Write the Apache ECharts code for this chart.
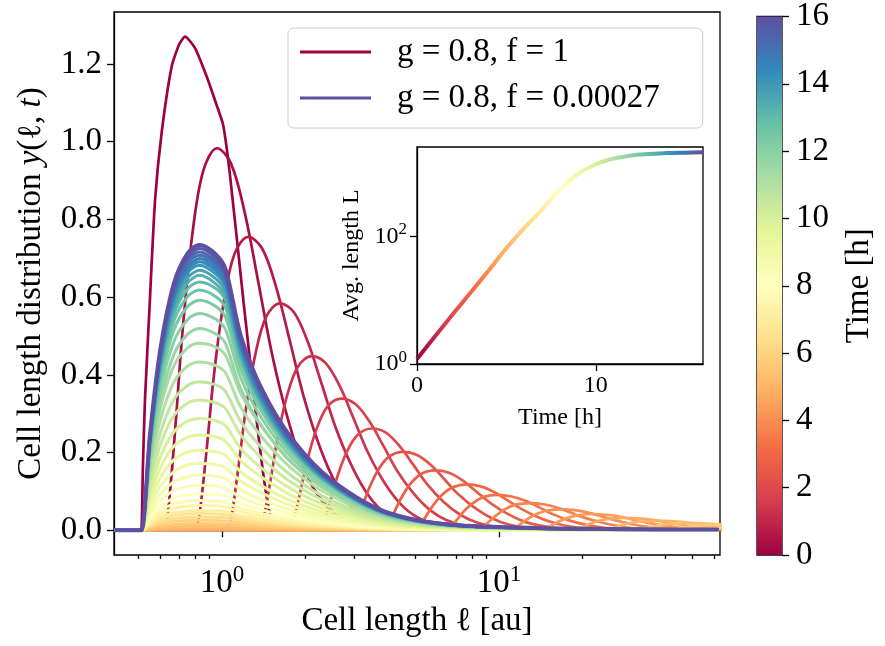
<!DOCTYPE html>
<html><head><meta charset="utf-8">
<script src="https://cdn.jsdelivr.net/npm/echarts@6/dist/echarts.min.js"></script>
<style>html,body{margin:0;padding:0;background:#fff}#c{width:885px;height:646px}</style>
</head><body><div id="c"></div>
<script>
const FONT = '"Liberation Serif", "DejaVu Serif", serif';
const T_MAX = 16;
const SPECTRAL = ['#9e0142','#d53e4f','#f46d43','#fdae61','#fee08b','#ffffbf','#e6f598','#abdda4','#66c2a5','#3288bd','#5e4fa2'];

// ---- ticks ----
const X_MAJOR = [1, 10];
const X_MINOR = [0.5,0.6,0.7,0.8,0.9,2,3,4,5,6,7,8,9,20,30,40,50,60];
const Y_TICKS = [0,0.2,0.4,0.6,0.8,1.0,1.2];
const INSET_X_TICKS = [0, 10];
const INSET_Y_TICKS = [1, 100];
const CB_TICKS = [0,2,4,6,8,10,12,14,16];

// ---- series 1: g = 0.8, f = 1 (each curve: its own x and y arrays) ----
const F1_TIMES = [0,0.333,0.667,1,1.333,1.667,2,2.333,2.667,3,3.333,3.667,4,4.333,4.667,5,5.333,5.667,6];
const F1_X = [
 [0.41,0.50,0.511,0.518,0.527,0.549,0.573,0.605,0.658,0.70,0.735,0.80,0.881,0.95,1.01,1.07,1.194,1.262,1.33,1.40,1.47,1.55,1.65],
 [0.620,0.641,0.680,0.720,0.780,0.855,0.96,1.077,1.209,1.356,1.522,1.747,2.005,2.303,2.769,3.486],
 [0.804,0.831,0.881,0.933,1.011,1.108,1.244,1.396,1.566,1.758,1.972,2.264,2.599,2.984,3.588,4.517],
 [1.047,1.082,1.147,1.215,1.317,1.443,1.62,1.818,2.040,2.289,2.568,2.948,3.384,3.886,4.672,5.882],
 [1.363,1.409,1.494,1.583,1.715,1.880,2.11,2.367,2.656,2.981,3.344,3.840,4.408,5.062,6.085,7.661],
 [1.744,1.804,1.912,2.025,2.195,2.406,2.70,3.029,3.399,3.815,4.280,4.914,5.640,6.477,7.787,9.804],
 [2.242,2.318,2.457,2.603,2.821,3.092,3.47,3.893,4.369,4.903,5.500,6.315,7.249,8.325,10.01,12.60],
 [2.913,3.013,3.193,3.383,3.667,4.018,4.51,5.060,5.678,6.373,7.148,8.208,9.421,10.82,13.01,16.38],
 [3.798,3.928,4.163,4.410,4.780,5.239,5.88,6.597,7.403,8.308,9.320,10.70,12.28,14.11,16.96,21.35],
 [4.942,5.110,5.416,5.738,6.219,6.816,7.65,8.583,9.631,10.81,12.13,13.92,15.98,18.35,22.06,27.78],
 [6.395,6.613,7.009,7.425,8.049,8.821,9.9,11.11,12.46,13.99,15.69,18.02,20.68,23.75,28.55,35.95],
 [8.333,8.617,9.133,9.675,10.49,11.49,12.9,14.47,16.24,18.23,20.45,23.48,26.95,30.95,37.20,46.84],
 [10.85,11.22,11.89,12.60,13.66,14.97,16.8,18.85,21.15,23.74,26.63,30.58,35.10,40.30,48.45,61.00],
 [14.08,14.56,15.43,16.35,17.72,19.42,21.8,24.46,27.45,30.80,34.55,39.68,45.54,52.30,62.87,79.16],
 [18.35,18.97,20.11,21.30,23.09,25.30,28.4,31.86,35.76,40.13,45.01,51.69,59.33,68.13,81.91,103.1],
 [23.84,24.65,26.13,27.68,30.00,32.88,36.9,41.40,46.46,52.14,58.49,67.16,77.08,88.52,106.4,134.0],
 [31.01,32.06,33.98,36.00,39.02,42.77,48,53.86,60.43,67.82,76.08,87.36],
 [40.31,41.68,44.18,46.80,50.73,55.60,62.4,70.01,78.56],
 [52.33,54.11,57.35,60.75,65.85,72.17,81]
];
const F1_Y = [
 [0,0,0,0.163,0.335,0.592,0.849,1.021,1.193,1.25,1.27,1.24,1.167,1.10,1.042,0.91,0.592,0.437,0.29,0.16,0.06,0.01,0],
 [0,0.059,0.275,0.511,0.757,0.924,0.983,0.944,0.816,0.634,0.447,0.275,0.149,0.075,0.028,0.008],
 [0,0.045,0.211,0.393,0.581,0.710,0.755,0.725,0.627,0.487,0.344,0.211,0.115,0.057,0.021,0.006],
 [0,0.035,0.164,0.304,0.450,0.549,0.584,0.561,0.485,0.377,0.266,0.164,0.089,0.044,0.016,0.005],
 [0,0.027,0.125,0.233,0.345,0.421,0.448,0.430,0.372,0.289,0.204,0.125,0.068,0.034,0.013,0.004],
 [0,0.020,0.095,0.176,0.261,0.319,0.339,0.325,0.281,0.219,0.154,0.095,0.052,0.026,0.009,0.003],
 [0,0.016,0.073,0.136,0.202,0.246,0.262,0.252,0.217,0.169,0.119,0.073,0.040,0.020,0.007,0.002],
 [0,0.012,0.057,0.105,0.156,0.190,0.202,0.194,0.168,0.130,0.092,0.057,0.031,0.015,0.006,0.002],
 [0,0.009,0.043,0.080,0.119,0.145,0.154,0.148,0.128,0.099,0.070,0.043,0.023,0.012,0.004,0.001],
 [0,0.007,0.033,0.061,0.091,0.111,0.118,0.113,0.098,0.076,0.054,0.033,0.018,0.009,0.003,0.001],
 [0,0.005,0.025,0.047,0.070,0.086,0.091,0.087,0.076,0.059,0.041,0.025,0.014,0.007,0.003,0.001],
 [0,0.004,0.020,0.036,0.054,0.066,0.070,0.067,0.058,0.045,0.032,0.020,0.011,0.005,0.002,0.001],
 [0,0.003,0.015,0.028,0.042,0.051,0.054,0.052,0.045,0.035,0.025,0.015,0.008,0.004,0.0015,0.0004],
 [0,0.0025,0.012,0.022,0.032,0.039,0.042,0.040,0.035,0.027,0.019,0.012,0.006,0.003,0.0012,0.0003],
 [0,0.002,0.009,0.017,0.025,0.030,0.032,0.031,0.027,0.021,0.015,0.009,0.005,0.0024,0.0009,0.0003],
 [0,0.0015,0.007,0.013,0.019,0.0235,0.025,0.024,0.021,0.016,0.011,0.007,0.004,0.0019,0.0007,0.0002],
 [0,0.0011,0.0053,0.0099,0.0146,0.0179,0.019,0.0182,0.0158,0.0123,0.0086,0.0053],
 [0,0.0009,0.0042,0.0078,0.0116,0.0141,0.015,0.0144,0.0125],
 [0,0.0007,0.0032,0.006,0.0089,0.0108,0.0115]
];

// ---- series 2: g = 0.8, f = 0.00027 (shared length grid) ----
const F2_X = [0.41,0.505,0.512,0.55,0.6,0.67,0.75,0.83,0.95,1.03,1.17,1.4,1.8,2.5,4,8,62];
const F2_TIMES = [3.667,4,4.333,4.667,5,5.333,5.667,6,6.333,6.667,7,7.333,7.667,8,8.333,8.667,9,9.333,9.667,10,10.333,10.667,11,11.333,11.667,12,12.333,12.667,13,13.333,13.667,14,14.333,14.667,15,15.333,15.667,16];
const F2_Y = [
 [0,0,0,0.0004,0.0007,0.0009,0.001,0.001,0.001,0.0009,0.0007,0.0006,0.0004,0.0002,0.0001,0,0],
 [0,0,0,0.0006,0.0011,0.0014,0.0015,0.0015,0.0015,0.0014,0.0011,0.0008,0.0005,0.0003,0.0001,0,0],
 [0,0,0,0.0007,0.0013,0.0018,0.002,0.002,0.002,0.0019,0.0015,0.0011,0.0007,0.0004,0.0001,0,0],
 [0,0,0,0.0011,0.002,0.0026,0.0029,0.003,0.0029,0.0028,0.0022,0.0017,0.0011,0.0006,0.0002,0,0],
 [0,0,0,0.0014,0.0026,0.0035,0.0039,0.004,0.0039,0.0037,0.0029,0.0022,0.0014,0.0008,0.0003,0.0001,0],
 [0,0,0,0.0036,0.0066,0.0088,0.0098,0.01,0.0098,0.0094,0.0073,0.0055,0.0036,0.002,0.0007,0.0002,0],
 [0,0,0,0.006,0.011,0.015,0.017,0.017,0.017,0.016,0.012,0.009,0.006,0.003,0.001,0,0],
 [0,0,0,0.009,0.017,0.023,0.025,0.026,0.025,0.024,0.019,0.014,0.009,0.005,0.002,0,0],
 [0,0,0,0.012,0.022,0.030,0.033,0.034,0.033,0.032,0.025,0.019,0.012,0.007,0.002,0.001,0],
 [0,0,0,0.015,0.028,0.038,0.042,0.043,0.042,0.040,0.031,0.024,0.015,0.009,0.003,0.001,0],
 [0,0,0,0.018,0.034,0.045,0.050,0.051,0.050,0.048,0.037,0.028,0.018,0.010,0.004,0.001,0],
 [0,0,0,0.023,0.042,0.056,0.062,0.064,0.063,0.060,0.047,0.035,0.023,0.013,0.004,0.001,0],
 [0,0,0,0.028,0.051,0.068,0.075,0.077,0.075,0.072,0.056,0.042,0.028,0.015,0.005,0.001,0],
 [0,0,0,0.034,0.062,0.083,0.092,0.094,0.092,0.088,0.069,0.052,0.034,0.019,0.007,0.002,0],
 [0,0,0,0.042,0.077,0.102,0.113,0.116,0.114,0.108,0.085,0.064,0.042,0.023,0.008,0.002,0],
 [0,0,0,0.051,0.094,0.125,0.138,0.142,0.139,0.133,0.104,0.078,0.051,0.028,0.010,0.003,0],
 [0,0,0,0.062,0.114,0.151,0.168,0.172,0.169,0.161,0.126,0.095,0.062,0.034,0.012,0.003,0.001],
 [0,0,0,0.074,0.136,0.181,0.201,0.206,0.202,0.193,0.150,0.113,0.074,0.041,0.014,0.004,0.001],
 [0,0,0,0.088,0.162,0.216,0.239,0.245,0.240,0.229,0.179,0.135,0.088,0.049,0.017,0.004,0.001],
 [0,0,0,0.104,0.190,0.253,0.281,0.288,0.282,0.269,0.210,0.158,0.104,0.058,0.020,0.005,0.001],
 [0,0,0,0.121,0.221,0.295,0.327,0.335,0.328,0.313,0.245,0.184,0.121,0.067,0.023,0.006,0.001],
 [0,0,0,0.138,0.252,0.336,0.372,0.382,0.374,0.357,0.279,0.210,0.138,0.076,0.027,0.007,0.001],
 [0,0,0,0.156,0.286,0.381,0.422,0.433,0.424,0.405,0.316,0.238,0.156,0.087,0.030,0.008,0.002],
 [0,0,0,0.173,0.317,0.423,0.469,0.481,0.471,0.450,0.351,0.265,0.173,0.096,0.034,0.009,0.002],
 [0,0,0,0.182,0.337,0.452,0.504,0.519,0.505,0.480,0.363,0.265,0.171,0.096,0.034,0.008,0.002],
 [0,0,0,0.195,0.363,0.485,0.542,0.558,0.543,0.516,0.391,0.285,0.184,0.103,0.036,0.009,0.002],
 [0,0,0,0.207,0.385,0.515,0.575,0.592,0.576,0.548,0.414,0.302,0.195,0.110,0.038,0.009,0.002],
 [0,0,0,0.214,0.400,0.538,0.601,0.618,0.601,0.572,0.433,0.315,0.204,0.114,0.040,0.010,0.002],
 [0,0,0,0.220,0.410,0.556,0.621,0.639,0.622,0.591,0.447,0.326,0.211,0.118,0.042,0.010,0.002],
 [0,0,0,0.224,0.420,0.567,0.636,0.656,0.634,0.601,0.447,0.321,0.208,0.114,0.040,0.010,0.002],
 [0,0,0,0.228,0.428,0.579,0.649,0.669,0.647,0.613,0.456,0.328,0.212,0.116,0.041,0.010,0.002],
 [0,0,0,0.233,0.436,0.590,0.662,0.682,0.659,0.625,0.464,0.334,0.216,0.119,0.042,0.010,0.002],
 [0,0,0,0.236,0.442,0.598,0.670,0.691,0.668,0.633,0.471,0.339,0.219,0.120,0.042,0.010,0.002],
 [0,0,0,0.238,0.447,0.605,0.678,0.699,0.676,0.640,0.476,0.343,0.222,0.122,0.043,0.010,0.002],
 [0,0,0,0.241,0.453,0.612,0.687,0.708,0.685,0.649,0.482,0.347,0.224,0.123,0.043,0.011,0.002],
 [0,0,0,0.244,0.458,0.619,0.695,0.716,0.692,0.656,0.488,0.351,0.227,0.125,0.044,0.011,0.002],
 [0,0,0,0.247,0.464,0.627,0.703,0.725,0.701,0.664,0.494,0.355,0.230,0.126,0.044,0.011,0.002],
 [0,0,0,0.250,0.470,0.635,0.712,0.734,0.710,0.672,0.500,0.360,0.233,0.128,0.045,0.011,0.002]
];

// ---- inset: average length vs time ----
const INSET_T = [0,1,2,3,4,5,6,7,8,9,10,11,12,13,14,15,16];
const INSET_L = [1.2,2.7,6.0,13.2,29,65,135,263,550,955,1350,1660,1860,1950,2020,2050,2075];

// ---- texts ----
const NAME_F1 = 'g = 0.8, f = 1';
const NAME_F2 = 'g = 0.8, f = 0.00027';

// ---- helpers ----
function hex2rgb(h){return [parseInt(h.slice(1,3),16),parseInt(h.slice(3,5),16),parseInt(h.slice(5,7),16)];}
function spectral(t){
  const n = SPECTRAL.length - 1;
  const s = Math.max(0, Math.min(1, t / T_MAX)) * n;
  const i = Math.min(Math.floor(s), n - 1);
  const f = s - i;
  const a = hex2rgb(SPECTRAL[i]), b = hex2rgb(SPECTRAL[i + 1]);
  return 'rgb(' + [0,1,2].map(j => Math.round(a[j] + (b[j] - a[j]) * f)).join(',') + ')';
}
const supFmt = v => '{b|10}{s|' + Math.round(Math.log10(v)) + '}';
function supRich(big, small, lh, slh){
  return {
    b: {fontFamily: FONT, fontSize: big, color: '#000', lineHeight: lh},
    s: {fontFamily: FONT, fontSize: small, color: '#000', lineHeight: slh, verticalAlign: 'top'}
  };
}
const AX_LINE = {show: true, lineStyle: {color: '#000', width: 1.3}};
const TICK = len => ({show: true, length: len, lineStyle: {color: '#000', width: 1.3}});

// ---- build series ----
const series = [];
F1_TIMES.forEach((t, k) => {
  const c = spectral(t);
  series.push({
    type: 'line', name: NAME_F1, xAxisIndex: 0, yAxisIndex: 0,
    data: F1_X[k].map((x, j) => [x, F1_Y[k][j]]),
    smooth: k === 0 ? 0.2 : 0.35, symbol: 'none', silent: true,
    lineStyle: {color: c, width: 2.7}, itemStyle: {color: c}, z: 2
  });
});
F2_TIMES.forEach((t, k) => {
  const c = spectral(t);
  const last = k === F2_TIMES.length - 1;
  series.push({
    type: 'line', name: NAME_F2, xAxisIndex: 0, yAxisIndex: 0,
    data: F2_X.map((x, j) => [x, F2_Y[k][j]]),
    smooth: 0.3, symbol: 'none', silent: true,
    lineStyle: {color: c, width: last ? 4 : 3}, itemStyle: {color: c}, z: 3
  });
});
const insetIndex = series.length;
series.push({
  type: 'line', xAxisIndex: 1, yAxisIndex: 1,
  data: INSET_T.map((t, i) => [t, INSET_L[i]]),
  smooth: 0.3, symbol: 'none', silent: true, lineStyle: {width: 4}, z: 5
});
const stops = SPECTRAL.map((c, i) => ({offset: i / (SPECTRAL.length - 1), color: c}));
series.push({
  type: 'bar', xAxisIndex: 2, yAxisIndex: 2, data: [T_MAX], barWidth: '100%', silent: true,
  itemStyle: {color: new echarts.graphic.LinearGradient(0, 1, 0, 0, stops)}
});

const XMIN = 0.4074, XMAX = 62.8;
const option = {
  animation: false,
  backgroundColor: '#fff',
  textStyle: {fontFamily: FONT},
  grid: [
    {left: 114, top: 12, width: 606, height: 543, show: true, borderColor: '#000', borderWidth: 1.3, backgroundColor: 'transparent'},
    {left: 417, top: 147, width: 286, height: 217, show: true, borderColor: '#000', borderWidth: 1.3, backgroundColor: '#fff'},
    {left: 757, top: 12, width: 25, height: 543, show: true, borderColor: '#000', borderWidth: 1.3}
  ],
  xAxis: [
    {gridIndex: 0, type: 'log', min: XMIN, max: XMAX, position: 'bottom',
     axisLine: AX_LINE, axisTick: Object.assign(TICK(7), {customValues: X_MAJOR}),
     axisLabel: {customValues: X_MAJOR, formatter: supFmt, margin: 8, rich: supRich(33, 23, 40, 22)},
     splitLine: {show: false}, minorTick: {show: false},
     name: '{r|Cell length }{i|ℓ}{r| [au]}', nameLocation: 'middle', nameGap: 46,
     nameTextStyle: {rich: {r: {fontFamily: FONT, fontSize: 33, color: '#000', lineHeight: 38}, i: {fontFamily: FONT, fontSize: 33, color: '#000', lineHeight: 38}}}},
    {gridIndex: 1, type: 'value', min: 0, max: T_MAX,
     axisLine: AX_LINE, axisTick: Object.assign(TICK(7), {customValues: INSET_X_TICKS}),
     axisLabel: {customValues: INSET_X_TICKS, fontFamily: FONT, fontSize: 24, color: '#000', margin: 10},
     splitLine: {show: false},
     name: 'Time [h]', nameLocation: 'middle', nameGap: 40,
     nameTextStyle: {fontFamily: FONT, fontSize: 24, color: '#000', lineHeight: 28}},
    {gridIndex: 2, type: 'category', data: ['cb'], show: false},
    {gridIndex: 0, type: 'log', min: XMIN, max: XMAX, position: 'bottom',
     axisLine: {show: false}, axisTick: Object.assign(TICK(4), {customValues: X_MINOR}),
     axisLabel: {show: false}, splitLine: {show: false}}
  ],
  yAxis: [
    {gridIndex: 0, type: 'value', min: -0.0635, max: 1.3335,
     axisLine: AX_LINE, axisTick: Object.assign(TICK(7), {customValues: Y_TICKS}),
     axisLabel: {customValues: Y_TICKS, formatter: v => v.toFixed(1), fontFamily: FONT, fontSize: 33, color: '#000', margin: 12},
     splitLine: {show: false},
     name: '{r|Cell length distribution }{i|y}{r|(ℓ, }{i|t}{r|)}', nameLocation: 'middle', nameGap: 64, nameRotate: 90,
     nameTextStyle: {rich: {r: {fontFamily: FONT, fontSize: 33, color: '#000', lineHeight: 38}, i: {fontFamily: FONT, fontSize: 33, fontStyle: 'italic', color: '#000', lineHeight: 38}}}},
    {gridIndex: 1, type: 'log', min: 1, max: 2518,
     axisLine: AX_LINE, axisTick: Object.assign(TICK(7), {customValues: INSET_Y_TICKS}),
     axisLabel: {customValues: INSET_Y_TICKS, formatter: supFmt, margin: 10, rich: supRich(24, 17, 30, 17)},
     splitLine: {show: false}, minorTick: {show: false},
     name: 'Avg. length L', nameLocation: 'middle', nameGap: 51, nameRotate: 90,
     nameTextStyle: {fontFamily: FONT, fontSize: 24, color: '#000', lineHeight: 28}},
    {gridIndex: 2, type: 'value', min: 0, max: T_MAX, position: 'right',
     axisLine: {show: false}, axisTick: Object.assign(TICK(7), {customValues: CB_TICKS}),
     axisLabel: {customValues: CB_TICKS, fontFamily: FONT, fontSize: 33, color: '#000', margin: 14},
     splitLine: {show: false},
     name: 'Time [h]', nameLocation: 'middle', nameGap: 59, nameRotate: 90,
     nameTextStyle: {fontFamily: FONT, fontSize: 33, color: '#000', lineHeight: 36}}
  ],
  visualMap: [{type: 'continuous', show: false, seriesIndex: insetIndex, dimension: 0, min: 0, max: T_MAX, inRange: {color: SPECTRAL}}],
  legend: {
    data: [
      {name: NAME_F1, icon: 'rect', itemStyle: {color: spectral(F1_TIMES[0])}},
      {name: NAME_F2, icon: 'rect', itemStyle: {color: spectral(T_MAX)}}
    ],
    orient: 'vertical', left: 288, top: 28, itemWidth: 71, itemHeight: 3, itemGap: 10,
    padding: [6, 43, 12, 12], backgroundColor: 'rgba(255,255,255,0.8)', borderColor: '#cccccc', borderWidth: 1, borderRadius: 6,
    selectedMode: false,
    textStyle: {fontFamily: FONT, fontSize: 33, color: '#000', lineHeight: 36, padding: [0, 0, 0, 21]}
  },
  series: series
};
const chart = echarts.init(document.getElementById('c'), null, {renderer: 'canvas'});
chart.setOption(option);
</script></body></html>
